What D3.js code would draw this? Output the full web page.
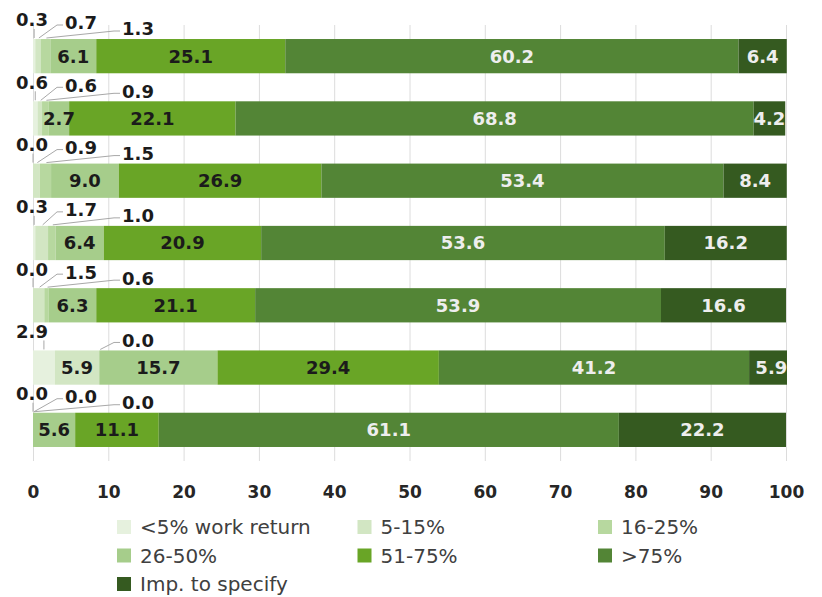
<!DOCTYPE html>
<html>
<head>
<meta charset="utf-8">
<script src="https://cdn.jsdelivr.net/npm/d3@7"></script>
<style>
  html, body { margin: 0; padding: 0; background: #ffffff; }
  svg { display: block; }
</style>
</head>
<body>
<div id="chart"></div>
<script>
// ---------- DATA ----------
const rows = ["Row 1", "Row 2", "Row 3", "Row 4", "Row 5", "Row 6", "Row 7"];
const seriesNames = ["<5% work return", "5-15%", "16-25%", "26-50%", "51-75%", ">75%", "Imp. to specify"];
const lt5    = [0.3, 0.6, 0.0, 0.3, 0.0, 2.9, 0.0];
const p5_15  = [0.7, 0.6, 0.9, 1.7, 1.5, 5.9, 0.0];
const p16_25 = [1.3, 0.9, 1.5, 1.0, 0.6, 0.0, 0.0];
const p26_50 = [6.1, 2.7, 9.0, 6.4, 6.3, 15.7, 5.6];
const p51_75 = [25.1, 22.1, 26.9, 20.9, 21.1, 29.4, 11.1];
const gt75   = [60.2, 68.8, 53.4, 53.6, 53.9, 41.2, 61.1];
const impSpec= [6.4, 4.2, 8.4, 16.2, 16.6, 5.9, 22.2];
const xTicks = [0, 10, 20, 30, 40, 50, 60, 70, 80, 90, 100];

const seriesValues = [lt5, p5_15, p16_25, p26_50, p51_75, gt75, impSpec];
const colors = ["#e6f1de", "#d2e6c3", "#b7d89f", "#a6cd8b", "#69a526", "#538536", "#355a20"];
const lightText = [false, false, false, false, false, true, true];

// ---------- TABLE ----------
const keys = seriesNames;
const table = rows.map((r, j) => {
  const o = { row: r };
  keys.forEach((k, i) => { o[k] = seriesValues[i][j]; });
  return o;
});

// ---------- LAYOUT ----------
const W = 822, H = 597;
const svg = d3.select("#chart").append("svg").attr("width", W).attr("height", H);

const x = d3.scaleLinear().domain([0, 100]).range([33, 786]);
const y = d3.scaleBand().domain(rows).range([25, 461]).paddingInner(0.45).paddingOuter(0.225);

// gridlines
const grid = svg.append("g").attr("transform", `translate(0,${y.range()[1]})`)
  .call(d3.axisBottom(x).tickValues(xTicks).tickSize(-(y.range()[1] - y.range()[0])).tickFormat(""));
grid.select(".domain").remove();
grid.selectAll("line").attr("stroke", "#dcdcdc").attr("stroke-width", 1);

// axis labels
const axis = svg.append("g").attr("transform", `translate(0,${y.range()[1]})`)
  .call(d3.axisBottom(x).tickValues(xTicks).tickSize(0).tickPadding(25).tickFormat(d3.format("d")));
axis.select(".domain").remove();
axis.selectAll("text")
  .attr("font-family", "DejaVu Sans, sans-serif")
  .attr("font-weight", "bold")
  .attr("font-size", 17)
  .attr("fill", "#262626");

// clip to plot area
svg.append("defs").append("clipPath").attr("id", "plotclip")
  .append("rect").attr("x", x(0)).attr("y", 0).attr("width", x(100) - x(0) + 1).attr("height", H);

const stack = d3.stack().keys(keys);
const stacked = stack(table);

const barsG = svg.append("g").attr("clip-path", "url(#plotclip)");
stacked.forEach((s, i) => {
  barsG.append("g").attr("fill", colors[i])
    .selectAll("rect").data(s).join("rect")
    .attr("x", d => x(d[0]))
    .attr("y", d => y(d.data.row))
    .attr("width", d => Math.max(0, x(d[1]) - x(d[0])))
    .attr("height", y.bandwidth());
});

// labels
const fs = 18;
const labelsG = svg.append("g").attr("clip-path", "url(#plotclip)");
const calloutG = svg.append("g");
const fmt = d3.format(".1f");
const calloutOffsets = [
  { dx: -1, dy: -19 },
  { dx: 48, dy: -16 },
  { dx: 105, dy: -10 }
];

stacked.forEach((s, i) => {
  s.forEach(d => {
    const v = d.data[keys[i]];
    const top = y(d.data.row);
    const isCallout = i < 3 && v < 5;
    if (!isCallout) {
      labelsG.append("text")
        .attr("x", x((d[0] + d[1]) / 2))
        .attr("y", top + y.bandwidth() / 2 + 0.36 * fs)
        .attr("text-anchor", "middle")
        .attr("font-family", "DejaVu Sans, sans-serif")
        .attr("font-weight", "bold")
        .attr("font-size", fs)
        .attr("fill", lightText[i] ? "#eeeeee" : "#1b1b1b")
        .text(fmt(v));
    } else {
      const off = calloutOffsets[i];
      const cx = x(0) + off.dx;
      const cy = top + off.dy;
      calloutG.append("text")
        .attr("x", cx)
        .attr("y", cy + 0.36 * fs)
        .attr("text-anchor", "middle")
        .attr("font-family", "DejaVu Sans, sans-serif")
        .attr("font-weight", "bold")
        .attr("font-size", fs)
        .attr("fill", "#1b1b1b")
        .text(fmt(v));
      const halfW = 16;
      const sx = x((d[0] + d[1]) / 2);
      let pts;
      if (i === 0) {
        pts = [[sx, top - 1], [sx, cy + 9]];
      } else {
        const lx = cx - halfW - 2;
        pts = [[sx + 1, top - 1], [lx - 6, cy + 2], [lx, cy + 2]];
      }
      calloutG.append("path")
        .attr("d", d3.line()(pts))
        .attr("fill", "none")
        .attr("stroke", "#a8a8a8")
        .attr("stroke-width", 1);
    }
  });
});

// legend
const legendG = svg.append("g");
const legX0 = 117, legDX = 240.5, legY0 = 527, legDY = 28.5;
seriesNames.forEach((name, i) => {
  const col = i % 3, row = Math.floor(i / 3);
  const gx = legX0 + col * legDX, gy = legY0 + row * legDY;
  legendG.append("rect").attr("x", gx).attr("y", gy - 7).attr("width", 14).attr("height", 14).attr("fill", colors[i]);
  legendG.append("text")
    .attr("x", gx + 23)
    .attr("y", gy + 7)
    .attr("font-family", "DejaVu Sans, sans-serif")
    .attr("font-size", 20)
    .attr("fill", "#404040")
    .text(name);
});
</script>
</body>
</html>
